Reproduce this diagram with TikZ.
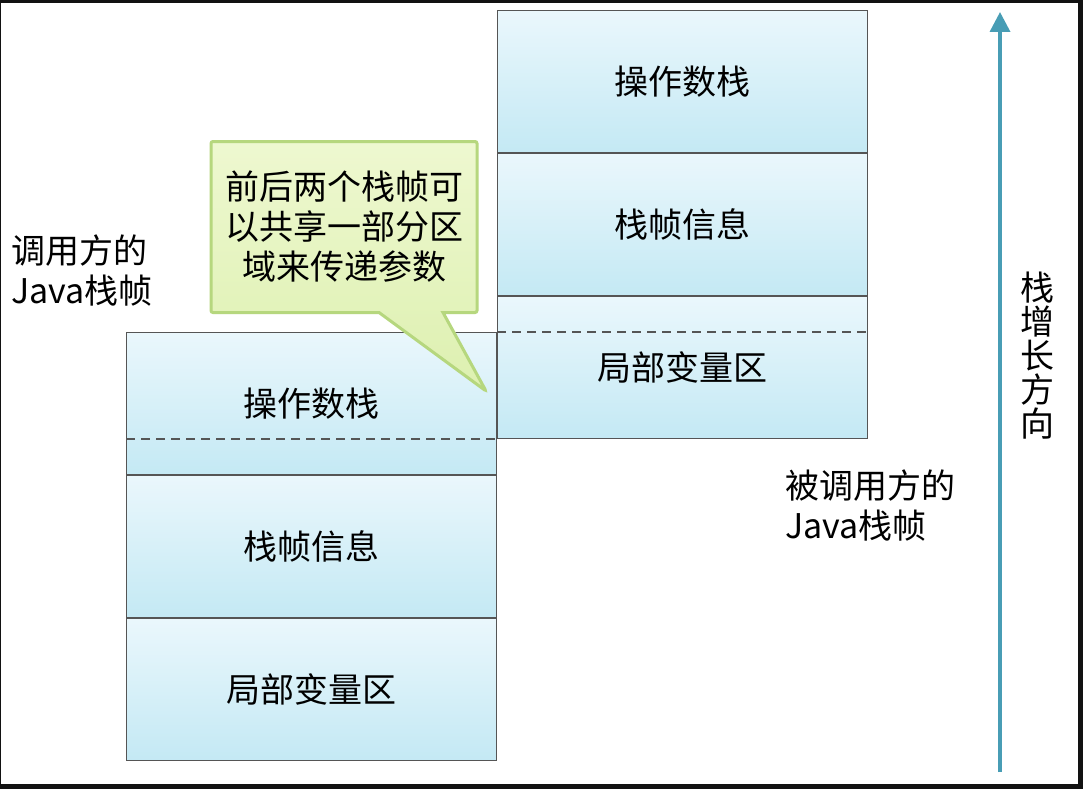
\documentclass[tikz,border=0pt]{standalone}
\usepackage{fontspec}
\setmainfont{Noto Sans CJK SC}
\usepackage{xcolor}
\usepackage{tikz}
\usetikzlibrary{shapes,shapes.callouts,arrows.meta,positioning,calc}

\definecolor{boxtop}{RGB}{234,247,252}
\definecolor{boxbot}{RGB}{196,233,244}
\definecolor{boxline}{RGB}{85,85,85}
\definecolor{notetop}{RGB}{238,248,208}
\definecolor{notebot}{RGB}{221,240,176}
\definecolor{noteline}{RGB}{182,215,126}
\definecolor{growcol}{RGB}{72,157,181}

\begin{document}
\begin{tikzpicture}[
    x=1pt, y=-1pt,
    node distance=0pt,
    layer/.style={rectangle, draw=boxline, line width=1.2pt, top color=boxtop, bottom color=boxbot,
        minimum width=370pt, minimum height=141.8pt, inner sep=0pt, font=\fontsize{34}{38}\selectfont},
    note/.style={rectangle callout, draw=noteline, line width=3pt, rounded corners=2pt,
        top color=notetop, bottom color=notebot, minimum width=266pt, minimum height=171pt,
        callout pointer width=64pt, align=center, font=\fontsize{34}{40}\selectfont},
    lbl/.style={font=\fontsize{34}{40}\selectfont, align=left, inner sep=0pt},
    dashline/.style={dashed, dash pattern=on 9pt off 6pt, draw=boxline, line width=2pt},
    growarrow/.style={-{Triangle[width=20pt,length=20pt]}, draw=growcol, line width=3.5pt}
]
    % frame
    \fill[black!93] (0,0) rectangle (1083,789);
    \fill[white] (1,3) rectangle (1078,784);
    \useasboundingbox (0,0) rectangle (1083,789);

    % caller frame (left)
    \node[layer, anchor=north west] (lopstack) at (126,332) {操作数栈};
    \node[layer, below=of lopstack] (lframe) {栈帧信息};
    \node[layer, below=of lframe] (llocal) {局部变量区};

    % callee frame (right)
    \node[layer, anchor=north west] (ropstack) at (497,10) {操作数栈};
    \node[layer, below=of ropstack] (rframe) {栈帧信息};
    \node[layer, below=of rframe] (rlocal) {局部变量区};

    % shared region
    \draw[dashline] (lopstack.west |- rlocal.south) -- (lopstack.east |- rlocal.south);
    \draw[dashline] (rlocal.west |- lopstack.north) -- (rlocal.east |- lopstack.north);

    \node[note, callout absolute pointer={(486,391)}] (share) at (344,227)
        {前后两个栈帧可\\以共享一部分区\\域来传递参数};

    \node[lbl, anchor=north west] (caller) at (11,235) {调用方的\\Java栈帧};
    \node[lbl, anchor=north west] (callee) at (785,470) {被调用方的\\Java栈帧};

    % growth direction
    \coordinate (gbot) at (1000,772);
    \coordinate (gtop) at (1000,12);
    \draw[growarrow] (gbot) -- (gtop);
    \node[lbl, align=center, font=\fontsize{34}{34}\selectfont] (growlbl) at (1037,356) {栈\\增\\长\\方\\向};
\end{tikzpicture}
\end{document}
